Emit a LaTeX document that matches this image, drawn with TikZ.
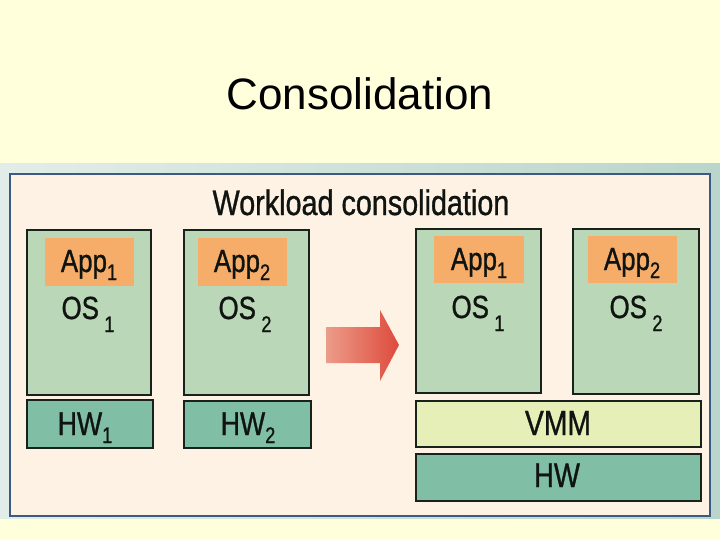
\documentclass[tikz,border=0pt]{standalone}
\usepackage{fontspec}
\setmainfont{Liberation Sans}
\newfontfamily\cond[FakeStretch=0.81,FakeBold=0.9]{Liberation Sans}
\definecolor{slidebg}{HTML}{FFFFDC}
\definecolor{bandL}{HTML}{E2EDE9}
\definecolor{bandR}{HTML}{B9D5CC}
\definecolor{panel}{HTML}{FEF2E4}
\definecolor{panelline}{HTML}{3C5A82}
\definecolor{osfill}{HTML}{BAD8B8}
\definecolor{appfill}{HTML}{F7AD6A}
\definecolor{hwfill}{HTML}{80BFA5}
\definecolor{vmmfill}{HTML}{E7EFB8}
\definecolor{boxline}{HTML}{18221A}
\definecolor{txt}{HTML}{101410}
\definecolor{arrL}{HTML}{EC9C8A}
\definecolor{arrR}{HTML}{DE4A3C}
\newcommand\lowsub[2]{\raisebox{-#1pt}{\fontsize{22.5}{23}\selectfont #2}}
\tikzset{
  layer/.style={draw=boxline, line width=1.8pt, inner sep=0pt, anchor=north west},
  osbox/.style={layer, fill=osfill, minimum width=124pt, minimum height=165pt},
  appbox/.style={inner sep=0pt, anchor=north west, fill=appfill, minimum width=89pt, minimum height=48pt},
  hwbox/.style={layer, fill=hwfill},
  vmmbox/.style={layer, fill=vmmfill},
  lbl/.style={anchor=base, inner sep=0pt, text=txt, font=\cond\fontsize{32}{32}\selectfont},
}
\begin{document}
\begin{tikzpicture}[x=1pt,y=-1pt]
\useasboundingbox (0,0) rectangle (720,540);
\fill[slidebg] (0,0) rectangle (720,540);
\node[anchor=base, inner sep=0pt, font=\fontsize{44}{44}\selectfont] (title) at (360,110) {Consolidation};
% figure band and panel
\shade[left color=bandL, right color=bandR] (0,164) rectangle (720,518);
\draw[panelline, line width=2pt, fill=panel] (10,174) rectangle (710,516);
\node[anchor=base, inner sep=0pt, text=txt, font=\cond\fontsize{35.5}{36}\selectfont] (wl) at (361,215) {Workload consolidation};
% left side
\node[osbox] (os1) at (26,229) {};
\node[appbox] (app1) at (45,238) {};
\node[osbox, minimum width=125pt] (os2) at (183,229) {};
\node[appbox] (app2) at (198,238) {};
\node[hwbox, minimum width=126pt, minimum height=48pt] (hw1) at (26,399) {};
\node[hwbox, minimum width=127pt, minimum height=47pt] (hw2) at (183,400) {};
\node[lbl] (t-app1) at (89,272) {App\lowsub{8}{1}};
\node[lbl] (t-app2) at (242,272) {App\lowsub{8}{2}};
\node[lbl] (t-os1) at (88,319) {OS\,\lowsub{13}{1}};
\node[lbl] (t-os2) at (245,319) {OS\,\lowsub{13}{2}};
\node[lbl, font=\cond\fontsize{33}{33}\selectfont] (t-hw1) at (85,435) {HW\lowsub{8}{1}};
\node[lbl, font=\cond\fontsize{33}{33}\selectfont] (t-hw2) at (248,435) {HW\lowsub{8}{2}};
% arrow
\shade[left color=arrL, right color=arrR] (326,327) -- (380,327) -- (380,310) -- (399,345) -- (380,381) -- (380,363) -- (326,363) -- cycle;
% right side
\node[osbox, minimum width=125pt, minimum height=164pt] (ros1) at (415,228) {};
\node[appbox, minimum width=90pt, minimum height=47pt] (rapp1) at (434,236) {};
\node[osbox, minimum width=126pt, minimum height=165pt] (ros2) at (572,228) {};
\node[appbox, minimum height=47pt] (rapp2) at (588,236) {};
\node[vmmbox, minimum width=285pt, minimum height=46pt] (vmm) at (415,400) {};
\node[hwbox, minimum width=285pt, minimum height=47pt] (hw) at (415,453) {};
\node[lbl] (t-rapp1) at (479,270) {App\lowsub{8}{1}};
\node[lbl] (t-rapp2) at (632,270) {App\lowsub{8}{2}};
\node[lbl] (t-ros1) at (478,318) {OS\,\lowsub{13}{1}};
\node[lbl] (t-ros2) at (636,318) {OS\,\lowsub{13}{2}};
\node[lbl, font=\cond\fontsize{35}{35}\selectfont] (t-vmm) at (558,435) {VMM};
\node[lbl, font=\cond\fontsize{34}{34}\selectfont] (t-hw) at (557,487) {HW};
\end{tikzpicture}
\end{document}
